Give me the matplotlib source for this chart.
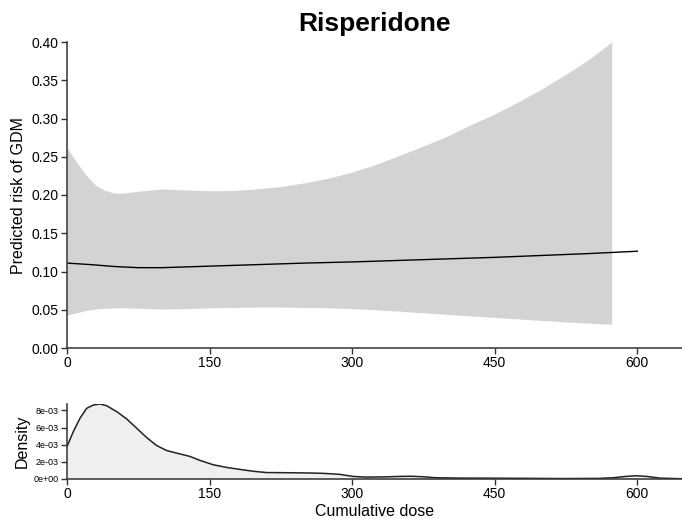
import numpy as np
import matplotlib
matplotlib.use("Agg")
import matplotlib.pyplot as plt

plt.rcParams["font.family"] = ["Liberation Sans", "DejaVu Sans"]

# Predicted risk with confidence band
band_dose = [0, 10, 20, 30, 40, 50, 60, 75, 100, 125, 150, 175, 200, 225, 250,
             275, 300, 325, 350, 375, 400, 425, 450, 475, 500, 525, 550, 573]
band_upper = [0.262, 0.243, 0.226, 0.213, 0.206, 0.2025, 0.2025, 0.205, 0.208,
              0.2065, 0.2055, 0.206, 0.208, 0.211, 0.216, 0.222, 0.230, 0.240,
              0.252, 0.264, 0.277, 0.292, 0.306, 0.322, 0.339, 0.358, 0.378, 0.400]
band_lower = [0.043, 0.046, 0.049, 0.051, 0.052, 0.0525, 0.0525, 0.052, 0.051,
              0.0515, 0.0525, 0.053, 0.0535, 0.0535, 0.053, 0.0525, 0.0515,
              0.050, 0.048, 0.046, 0.044, 0.042, 0.040, 0.038, 0.036, 0.034,
              0.0325, 0.031]

risk_dose = [0, 25, 50, 75, 100, 125, 150, 200, 250, 300, 350, 400, 450, 500, 550, 600]
risk_pred = [0.111, 0.109, 0.1065, 0.105, 0.105, 0.106, 0.107, 0.109, 0.111,
             0.1125, 0.1145, 0.1165, 0.1185, 0.121, 0.1235, 0.1265]

# Dose density
dens_dose = [0, 6.7, 13.7, 20.7, 27.7, 34.7, 41.7, 52.3, 62.8, 73.3, 83.8,
             94.3, 104.8, 115.3, 129.3, 139.9, 153.8, 167.9, 181.9, 196, 210,
             234.5, 255, 269.5, 287, 301, 315, 336, 350, 362, 375, 387, 410,
             432, 480, 524, 560, 575, 588, 599, 610, 624, 647]
dens_val = [3.79e-3, 5.53e-3, 7.08e-3, 8.24e-3, 8.62e-3, 8.74e-3, 8.54e-3,
            7.85e-3, 7.0e-3, 5.92e-3, 4.83e-3, 3.9e-3, 3.32e-3, 3.02e-3,
            2.63e-3, 2.17e-3, 1.66e-3, 1.35e-3, 1.12e-3, 0.9e-3, 0.75e-3,
            0.73e-3, 0.7e-3, 0.66e-3, 0.54e-3, 0.3e-3, 0.22e-3, 0.25e-3,
            0.3e-3, 0.32e-3, 0.26e-3, 0.15e-3, 0.11e-3, 0.1e-3, 0.08e-3,
            0.05e-3, 0.07e-3, 0.15e-3, 0.3e-3, 0.38e-3, 0.3e-3, 0.1e-3, 0.03e-3]

x_ticks = [0, 150, 300, 450, 600]
risk_ticks = [0.00, 0.05, 0.10, 0.15, 0.20, 0.25, 0.30, 0.35, 0.40]
dens_ticks = [0, 2e-3, 4e-3, 6e-3, 8e-3]
dens_tick_labels = ["0e+00", "2e-03", "4e-03", "6e-03", "8e-03"]

XMAX = 647
axis_color = "#333333"

fig = plt.figure(figsize=(6.82, 5.19), dpi=100)
ax = fig.add_axes([67 / 682, 1 - 348 / 519, 1 - 67 / 682, (348 - 42) / 519])
ax2 = fig.add_axes([67 / 682, 1 - 479 / 519, 1 - 67 / 682, (479 - 404) / 519])


def style(a):
    for s in ("top", "right"):
        a.spines[s].set_visible(False)
    for s in ("left", "bottom"):
        a.spines[s].set_color(axis_color)
        a.spines[s].set_linewidth(1.1)
    a.tick_params(direction="out", length=4, width=1.0, color=axis_color,
                  labelcolor="black", pad=2)


ax.fill_between(band_dose, band_lower, band_upper, color="#d3d3d3", linewidth=0)
ax.plot(risk_dose, risk_pred, color="black", linewidth=1.0)
ax.set_xlim(0, XMAX)
ax.set_ylim(0, 0.40)
ax.set_xticks(x_ticks)
ax.set_yticks(risk_ticks)
ax.set_yticklabels([f"{v:.2f}" for v in risk_ticks])
style(ax)
ax.tick_params(labelsize=10)
ax.set_ylabel("Predicted risk of GDM", fontsize=11.5, labelpad=4)
ax.set_title("Risperidone", fontsize=19, fontweight="bold", pad=8,
             x=(374 - 67) / (682 - 67))

ax2.fill_between(dens_dose, 0, dens_val, color="#efefef", linewidth=0)
ax2.plot(dens_dose, dens_val, color="#222222", linewidth=1.1)
ax2.set_xlim(0, XMAX)
ax2.set_ylim(0, max(dens_val))
ax2.set_xticks(x_ticks)
ax2.set_yticks(dens_ticks)
ax2.set_yticklabels(dens_tick_labels)
style(ax2)
ax2.tick_params(axis="x", labelsize=10)
ax2.tick_params(axis="y", labelsize=6.5)
ax2.set_ylabel("Density", fontsize=11.5, labelpad=3)
ax2.set_xlabel("Cumulative dose", fontsize=11.5, labelpad=2)

fig.savefig("out.png", dpi=100)
